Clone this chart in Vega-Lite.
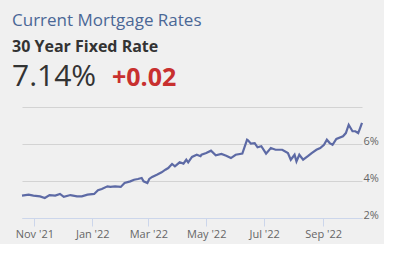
{
  "$schema": "https://vega.github.io/schema/vega-lite/v6.json",
  "background": "#f0f0f0",
  "padding": {"left": 12, "top": 12, "right": 5, "bottom": 5},
  "config": {"view": {"stroke": null}, "font": "Open Sans"},
  "title": {
    "text": "Current Mortgage Rates",
    "subtitle": "30 Year Fixed Rate",
    "anchor": "start",
    "font": "Open Sans",
    "fontSize": 17,
    "fontWeight": "normal",
    "color": "#4a6796",
    "subtitleFont": "Open Sans",
    "subtitleFontSize": 16,
    "subtitleFontWeight": "bold",
    "subtitleColor": "#333333",
    "subtitlePadding": 9,
    "offset": 6
  },
  "spacing": 11,
  "vconcat": [
    {
      "width": 100,
      "height": 20,
      "data": {"values": [
        {"label": "7.14%", "type": "rate"},
        {"label": "+0.02", "type": "change"}
      ]},
      "layer": [
        {
          "transform": [{"filter": "datum.type === 'rate'"}],
          "mark": {"type": "text", "align": "left", "baseline": "alphabetic", "fontSize": 30, "color": "#333333", "font": "Open Sans"},
          "encoding": {
            "x": {"field": "type", "type": "nominal", "scale": {"type": "point", "domain": ["rate", "change"], "range": [-10, 90], "padding": 0}, "axis": null},
            "text": {"field": "label"}
          }
        },
        {
          "transform": [{"filter": "datum.type === 'change'"}],
          "mark": {"type": "text", "align": "left", "baseline": "alphabetic", "fontSize": 25, "fontWeight": "bold", "color": "#c8302f", "font": "Open Sans"},
          "encoding": {
            "x": {"field": "type", "type": "nominal", "scale": {"type": "point", "domain": ["rate", "change"], "range": [-10, 90], "padding": 0}, "axis": null},
            "text": {"field": "label"}
          }
        }
      ]
    },
    {
      "width": 340,
      "height": 111,
      "data": {"values": [
        {"date": "2021-10-19", "rate": 3.21},
        {"date": "2021-10-26", "rate": 3.26},
        {"date": "2021-10-31", "rate": 3.21},
        {"date": "2021-11-07", "rate": 3.17},
        {"date": "2021-11-12", "rate": 3.08},
        {"date": "2021-11-17", "rate": 3.24},
        {"date": "2021-11-23", "rate": 3.21},
        {"date": "2021-11-28", "rate": 3.30},
        {"date": "2021-12-02", "rate": 3.14},
        {"date": "2021-12-09", "rate": 3.24},
        {"date": "2021-12-16", "rate": 3.17},
        {"date": "2021-12-21", "rate": 3.17},
        {"date": "2021-12-27", "rate": 3.26},
        {"date": "2022-01-03", "rate": 3.30},
        {"date": "2022-01-07", "rate": 3.50},
        {"date": "2022-01-11", "rate": 3.57},
        {"date": "2022-01-17", "rate": 3.71},
        {"date": "2022-01-20", "rate": 3.68},
        {"date": "2022-01-25", "rate": 3.71},
        {"date": "2022-01-31", "rate": 3.68},
        {"date": "2022-02-04", "rate": 3.89},
        {"date": "2022-02-10", "rate": 3.98},
        {"date": "2022-02-14", "rate": 4.07},
        {"date": "2022-02-18", "rate": 4.11},
        {"date": "2022-02-22", "rate": 4.16},
        {"date": "2022-02-24", "rate": 3.98},
        {"date": "2022-02-28", "rate": 3.89},
        {"date": "2022-03-02", "rate": 4.11},
        {"date": "2022-03-05", "rate": 4.22},
        {"date": "2022-03-10", "rate": 4.34},
        {"date": "2022-03-15", "rate": 4.47},
        {"date": "2022-03-19", "rate": 4.61},
        {"date": "2022-03-22", "rate": 4.70},
        {"date": "2022-03-26", "rate": 4.92},
        {"date": "2022-03-29", "rate": 4.79},
        {"date": "2022-04-03", "rate": 5.01},
        {"date": "2022-04-07", "rate": 4.94},
        {"date": "2022-04-10", "rate": 5.15},
        {"date": "2022-04-12", "rate": 5.01},
        {"date": "2022-04-16", "rate": 5.30},
        {"date": "2022-04-21", "rate": 5.42},
        {"date": "2022-04-25", "rate": 5.34},
        {"date": "2022-04-26", "rate": 5.42},
        {"date": "2022-05-01", "rate": 5.51},
        {"date": "2022-05-06", "rate": 5.64},
        {"date": "2022-05-11", "rate": 5.39},
        {"date": "2022-05-17", "rate": 5.46},
        {"date": "2022-05-22", "rate": 5.37},
        {"date": "2022-05-27", "rate": 5.24},
        {"date": "2022-06-01", "rate": 5.42},
        {"date": "2022-06-08", "rate": 5.48},
        {"date": "2022-06-13", "rate": 6.23},
        {"date": "2022-06-14", "rate": 6.20},
        {"date": "2022-06-17", "rate": 6.02},
        {"date": "2022-06-21", "rate": 6.05},
        {"date": "2022-06-24", "rate": 5.82},
        {"date": "2022-06-28", "rate": 5.88},
        {"date": "2022-07-03", "rate": 5.48},
        {"date": "2022-07-08", "rate": 5.78},
        {"date": "2022-07-13", "rate": 5.69},
        {"date": "2022-07-20", "rate": 5.69},
        {"date": "2022-07-26", "rate": 5.51},
        {"date": "2022-07-29", "rate": 5.15},
        {"date": "2022-08-02", "rate": 5.42},
        {"date": "2022-08-04", "rate": 5.06},
        {"date": "2022-08-07", "rate": 5.42},
        {"date": "2022-08-11", "rate": 5.15},
        {"date": "2022-08-16", "rate": 5.34},
        {"date": "2022-08-20", "rate": 5.51},
        {"date": "2022-08-25", "rate": 5.69},
        {"date": "2022-08-29", "rate": 5.78},
        {"date": "2022-09-02", "rate": 5.96},
        {"date": "2022-09-05", "rate": 6.23},
        {"date": "2022-09-08", "rate": 6.05},
        {"date": "2022-09-11", "rate": 5.96},
        {"date": "2022-09-15", "rate": 6.27},
        {"date": "2022-09-22", "rate": 6.42},
        {"date": "2022-09-25", "rate": 6.59},
        {"date": "2022-09-28", "rate": 7.04},
        {"date": "2022-10-02", "rate": 6.69},
        {"date": "2022-10-05", "rate": 6.69},
        {"date": "2022-10-08", "rate": 6.59},
        {"date": "2022-10-10", "rate": 6.86},
        {"date": "2022-10-12", "rate": 7.14}
      ]},
      "mark": {"type": "line", "color": "#5d6aa5", "strokeWidth": 2.2, "interpolate": "linear"},
      "encoding": {
        "x": {
          "field": "date",
          "type": "temporal",
          "scale": {"nice": false},
          "axis": {
            "title": null,
            "format": "%b '%y",
            "tickCount": {"interval": "month", "step": 2},
            "grid": false,
            "domainColor": "#ccd6eb",
            "tickColor": "#ccd6eb",
            "tickSize": 8,
            "labelColor": "#666666",
            "labelFontSize": 11,
            "labelFont": "Open Sans",
            "labelPadding": 2
          }
        },
        "y": {
          "field": "rate",
          "type": "quantitative",
          "scale": {"domain": [2, 8], "nice": false, "zero": false},
          "axis": {
            "orient": "right",
            "title": null,
            "values": [2, 4, 6, 8],
            "labelExpr": "datum.value == 8 ? '' : datum.value + '%'",
            "domain": false,
            "ticks": false,
            "gridColor": "#d3d3d3",
            "labelColor": "#666666",
            "labelFontSize": 11,
            "labelFont": "Open Sans",
            "labelPadding": 1,
            "labelBaseline": "alphabetic"
          }
        }
      }
    }
  ]
}
